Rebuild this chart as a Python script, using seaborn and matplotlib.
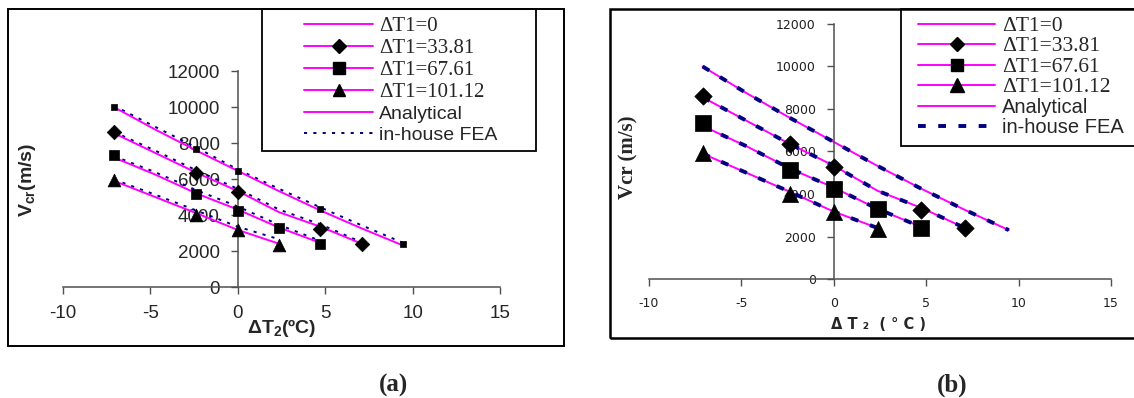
import matplotlib
matplotlib.use("Agg")
import matplotlib.pyplot as plt
import seaborn as sns
import pandas as pd
from matplotlib.lines import Line2D
from matplotlib.patches import Rectangle
from matplotlib.legend_handler import HandlerLine2D

# ---------------- data ----------------
x_grid = [-7.1, -4.73, -2.37, 0, 2.37, 4.73, 7.1, 9.47]

# analytical curves (both panels)
ana_0 = [10000, 8750, 7580, 6450, 5320, 4250, 3250, 2300]
ana_1 = [8550, 7450, 6350, 5330, 4150, 3350, 2400]
ana_2 = [7200, 6250, 5200, 4300, 3300, 2450]
ana_3 = [5900, 5000, 4100, 3170, 2400]

# in-house FEA curves, panel (a)
fea_a_0 = [10080, 8900, 7750, 6530, 5450, 4420, 3420, 2450]
fea_a_1 = [8620, 7580, 6480, 5450, 4300, 3480, 2480]
fea_a_2 = [7280, 6380, 5380, 4470, 3450, 2560]
fea_a_3 = [5980, 5130, 4250, 3350, 2650]

# in-house FEA curves, panel (b) (coincide with analytical)
fea_b_0 = ana_0
fea_b_1 = ana_1
fea_b_2 = ana_2
fea_b_3 = ana_3

# marker points
mk0_x = [-7.1, -2.37, 0, 4.73, 9.47]
mk0_y = [10000, 7650, 6430, 4350, 2400]          # small squares, panel (a) only
mk1_x = [-7.1, -2.37, 0, 4.73, 7.1]
mk1_y = [8600, 6350, 5270, 3250, 2380]           # diamonds
mk2_x = [-7.1, -2.37, 0, 2.37, 4.73]
mk2_y = [7350, 5150, 4220, 3280, 2410]           # squares
mk3_x = [-7.1, -2.37, 0, 2.37]
mk3_y = [5950, 4020, 3150, 2350]                 # triangles

legend_labels = ["ΔT1=0", "ΔT1=33.81", "ΔT1=67.61", "ΔT1=101.12", "Analytical", "in-house FEA"]
x_ticks = [-10, -5, 0, 5, 10, 15]
y_ticks = [0, 2000, 4000, 6000, 8000, 10000, 12000]

# ---------------- style ----------------
sns.set_style("white")
plt.rcParams["font.family"] = ["Liberation Sans", "DejaVu Sans"]
plt.rcParams["axes.unicode_minus"] = False
plt.rcParams["mathtext.fontset"] = "custom"
plt.rcParams["mathtext.rm"] = "Liberation Sans"
plt.rcParams["mathtext.bf"] = "Liberation Sans:bold"

MAG = "#FF00FF"
NAVY = "#000080"

W, H = 1134, 398
fig = plt.figure(figsize=(W / 100, H / 100), dpi=100)


def px_axes(x0, x1, ytop, ybot):
    return [x0 / W, 1 - ybot / H, (x1 - x0) / W, (ybot - ytop) / H]


ax_a = fig.add_axes(px_axes(63, 500, 71, 287))
ax_b = fig.add_axes(px_axes(649, 1111, 24, 279))

ana = [ana_0, ana_1, ana_2, ana_3]
fea_a = [fea_a_0, fea_a_1, fea_a_2, fea_a_3]
fea_b = [fea_b_0, fea_b_1, fea_b_2, fea_b_3]

rows = []
for panel, fea in (("a", fea_a), ("b", fea_b)):
    for i in range(4):
        for xv, yv in zip(x_grid, ana[i]):
            rows.append(dict(panel=panel, kind="ana", series=i, x=xv, V=yv))
        for xv, yv in zip(x_grid, fea[i]):
            rows.append(dict(panel=panel, kind="fea", series=i, x=xv, V=yv))
lines_df = pd.DataFrame(rows)

mk_rows = []
for i, (mx, my) in enumerate([(mk0_x, mk0_y), (mk1_x, mk1_y), (mk2_x, mk2_y), (mk3_x, mk3_y)]):
    for xv, yv in zip(mx, my):
        mk_rows.append(dict(series=i, x=xv, V=yv))
mk_df = pd.DataFrame(mk_rows)

fea_style = {"a": dict(lw=1.4, ls=(0, (1.6, 3.2))), "b": dict(lw=2.8, ls=(0, (2.0, 3.2)))}
mk_shapes = {0: "s", 1: "D", 2: "s", 3: "^"}
mk_sizes = {"a": {0: 25, 1: 55, 2: 62, 3: 85}, "b": {1: 78, 2: 125, 3: 135}}

for panel, ax in (("a", ax_a), ("b", ax_b)):
    sub = lines_df[lines_df.panel == panel]
    for i in range(4):
        d = sub[(sub.kind == "fea") & (sub.series == i)]
        sns.lineplot(data=d, x="x", y="V", ax=ax, color=NAVY, sort=False, estimator=None,
                     legend=False, linewidth=fea_style[panel]["lw"], linestyle=fea_style[panel]["ls"],
                     zorder=3 if panel == "b" else 2)
        d = sub[(sub.kind == "ana") & (sub.series == i)]
        sns.lineplot(data=d, x="x", y="V", ax=ax, color=MAG, sort=False, estimator=None,
                     legend=False, linewidth=1.4, zorder=2 if panel == "b" else 3)
    for i in range(4):
        if panel == "b" and i == 0:
            continue
        d = mk_df[mk_df.series == i]
        sns.scatterplot(data=d, x="x", y="V", ax=ax, marker=mk_shapes[i], s=mk_sizes[panel][i],
                        color="black", edgecolor="black", linewidth=0.5, legend=False, zorder=4)

for ax in (ax_a, ax_b):
    ax.set_xlim(-10, 15)
    ax.set_ylim(0, 12000)
    ax.set_xticks(x_ticks)
    ax.set_yticks(y_ticks)
    ax.spines["left"].set_position(("data", 0))
    ax.spines["bottom"].set_position(("data", 0))
    ax.spines["top"].set_visible(False)
    ax.spines["right"].set_visible(False)
    for s in ("left", "bottom"):
        ax.spines[s].set_color("#505050")
        ax.spines[s].set_linewidth(1.1)
    ax.patch.set_alpha(0)
    ax.tick_params(axis="both", which="major", direction="out", length=5, width=1,
                   color="#505050", left=True, bottom=True)

ax_a.tick_params(axis="both", labelsize=13.5, pad=8)
ax_a.set_xlabel(r"$\mathbf{\Delta T_2}$(ºC)", fontsize=14, fontweight="bold", ha="center", va="center")
ax_a.xaxis.set_label_coords(0.5, -0.19)
ax_a.set_ylabel(r"$\mathbf{V_{cr}}$(m/s)", fontsize=14, fontweight="bold", ha="center", va="center")
ax_a.yaxis.set_label_coords(-0.082, 0.495)

for lab in ax_b.get_xticklabels() + ax_b.get_yticklabels():
    lab.set_fontfamily("DejaVu Sans")
ax_b.tick_params(axis="both", labelsize=9, pad=8, labelcolor="#202020")
ax_b.set_xlabel("Δ T ₂  ( ° C )", fontsize=10.5, fontweight="bold", family="DejaVu Sans",
                ha="center", va="center")
ax_b.xaxis.set_label_coords(0.496, -0.18)
ax_b.set_ylabel("Vcr (m/s)", fontsize=15, fontweight="bold", family="Liberation Serif",
                ha="center", va="center")
ax_b.yaxis.set_label_coords(-0.045, 0.478)


# ---------------- legends ----------------
def make_handles(panel):
    ms = {"a": [0, 6.8, 8.0, 8.8], "b": [0, 7.2, 8.8, 9.5]}[panel]
    hs = [Line2D([], [], color=MAG, lw=1.4)]
    for i, m in zip([1, 2, 3], ["D", "s", "^"]):
        hs.append(Line2D([], [], color=MAG, lw=1.4, marker=m, markersize=ms[i],
                         markerfacecolor="black", markeredgecolor="black"))
    hs.append(Line2D([], [], color=MAG, lw=1.4))
    hs.append(Line2D([], [], color=NAVY, lw=fea_style[panel]["lw"], ls=fea_style[panel]["ls"]))
    return hs


def add_legend(ax, panel, x0, x1, fs, hstart_px, hend_px, tstart_px, lsp):
    fpx = fs * 100 / 72
    bp = 0.4
    xpad = (hstart_px - x0) / fpx - bp
    hl = (hend_px - x0) / fpx - bp
    tp = (tstart_px - hend_px) / fpx
    leg = ax.legend(make_handles(panel), legend_labels, loc="upper left",
                    bbox_to_anchor=(x0 / W, 0.3, (x1 - x0) / W, 1 - 9 / H - 0.3),
                    bbox_transform=fig.transFigure, mode="expand", borderaxespad=0,
                    frameon=True, fancybox=False, shadow=False, framealpha=1,
                    edgecolor="black", fontsize=fs, handlelength=hl, handletextpad=tp,
                    borderpad=bp, labelspacing=lsp, numpoints=1,
                    handler_map={Line2D: HandlerLine2D(xpad=xpad)})
    leg.get_frame().set_linewidth(1.3)
    for k, t in enumerate(leg.get_texts()):
        if k < 4:
            t.set_fontfamily("Liberation Serif")
            t.set_fontsize(fs + 1)
    return leg


add_legend(ax_a, "a", 262, 536, 14, 304, 373, 379, 0.16)
add_legend(ax_b, "b", 901, 1160, 14.5, 918, 995, 1002, 0.06)

# ---------------- frames and captions ----------------
fig.add_artist(Rectangle((8 / W, 1 - 346 / H), (564 - 8) / W, (346 - 9) / H,
                         transform=fig.transFigure, fill=False, lw=1.4, edgecolor="black"))
fig.add_artist(Rectangle((610 / W, 1 - 338 / H), (1160 - 610) / W, (338 - 9) / H,
                         transform=fig.transFigure, fill=False, lw=1.8, edgecolor="black"))

fig.text(394 / W, 1 - 385 / H, "(a)", ha="center", va="center", fontsize=18,
         fontweight="bold", family="Liberation Serif")
fig.text(952 / W, 1 - 385 / H, "(b)", ha="center", va="center", fontsize=18,
         fontweight="bold", family="Liberation Serif")

fig.savefig("out.png", dpi=100)
